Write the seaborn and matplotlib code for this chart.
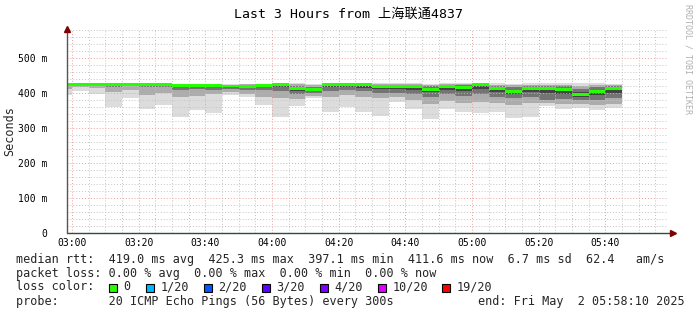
import matplotlib
matplotlib.use("Agg")
import matplotlib.pyplot as plt
import seaborn as sns
import numpy as np
import pandas as pd
from matplotlib.patches import Rectangle
from matplotlib.ticker import FixedLocator, FuncFormatter, MultipleLocator

sns.set_theme(style="white")
plt.rcParams['font.family'] = ['DejaVu Sans Mono', 'Noto Sans CJK SC']

# ---------------- data (ms) ----------------
bar_times = ["02:55", "03:00", "03:05", "03:10", "03:15", "03:20", "03:25", "03:30",
             "03:35", "03:40", "03:45", "03:50", "03:55", "04:00", "04:05", "04:10",
             "04:15", "04:20", "04:25", "04:30", "04:35", "04:40", "04:45", "04:50",
             "04:55", "05:00", "05:05", "05:10", "05:15", "05:20", "05:25", "05:30",
             "05:35", "05:40"]
median = [423, 424, 424, 424, 424, 424, 423, 422, 422, 421, 420, 419, 421, 423, 414, 411,
          424, 425.3, 423, 419, 419, 418, 411, 419, 416, 424, 414, 405, 412, 413, 410, 397,
          405, 411.6]
ping_min = [394, 406, 397, 360, 387, 354, 367, 332, 351, 344, 394, 390, 367, 332, 364, 387,
            347, 360, 347, 335, 375, 355, 326, 355, 347, 343, 347, 330, 332, 364, 354, 358,
            351, 356]
ping_lo2 = [412, 416, 413, 404, 409, 395, 401, 388, 392, 396, 403, 398, 390, 386, 384, 392,
            390, 393, 388, 385, 388, 380, 370, 378, 372, 375, 372, 365, 372, 371, 368, 368,
            366, 370]
ping_lo3 = [419, 421, 420, 418, 419, 416, 417, 410, 412, 410, 412, 408, 408, 405, 396, 400,
            406, 408, 405, 400, 401, 397, 390, 396, 392, 396, 390, 385, 390, 380, 382, 380,
            380, 385]
ping_lo4 = [422, 423, 423, 422, 422, 422, 421, 419, 419, 417, 417, 416, 416, 417, 407, 406,
            416, 418, 415, 412, 412, 410, 404, 410, 407, 412, 404, 397, 402, 400, 398, 390,
            394, 400]
ping_hi4 = [424, 424.5, 424.5, 424.5, 424.5, 424.5, 423.5, 423, 423, 422, 421, 421, 422, 424,
            417, 414, 425, 426, 424, 421, 421, 420, 415, 421, 419, 425, 417, 410, 415, 416,
            414, 404, 410, 415]
ping_hi3 = [425, 425, 425, 425, 425, 425, 424, 424, 424, 423, 423, 423, 424, 425, 421, 418,
            426, 427, 425, 423, 423, 422, 419, 423, 422, 426, 420, 416, 419, 420, 419, 412,
            416, 419]
ping_hi2 = [426, 426, 426, 426, 426, 426, 425, 425, 425, 424, 424, 425, 425, 426, 425, 422,
            427, 428, 426, 425, 425, 425, 423, 425, 425, 427, 424, 422, 424, 424, 424, 420,
            422, 424]
ping_max = [427, 427, 427, 428, 427, 427, 427, 427, 427, 426, 426, 427, 427, 428, 428, 426,
            429, 430, 428, 428, 428, 428, 427, 428, 428, 429, 428, 427, 428, 428, 428, 428,
            428, 427]

tick_labels = ["03:00", "03:20", "03:40", "04:00", "04:20", "04:40", "05:00", "05:20", "05:40"]
ytick_labels = ["0", "100 m", "200 m", "300 m", "400 m", "500 m"]

loss_labels = ["0", "1/20", "2/20", "3/20", "4/20", "10/20", "19/20"]
loss_colors = ["#26ff00", "#00b8ff", "#0059ff", "#5e00ff", "#7e00ff", "#dd00ff", "#ff0000"]

stats_line = "median rtt:  419.0 ms avg  425.3 ms max  397.1 ms min  411.6 ms now  6.7 ms sd  62.4   am/s"
loss_line = "packet loss: 0.00 % avg  0.00 % max  0.00 % min  0.00 % now"
probe_line = "probe:       20 ICMP Echo Pings (56 Bytes) every 300s"
end_line = "end: Fri May  2 05:58:10 2025"
title = "Last 3 Hours from 上海联通4837"


def to_min(s):
    h, m = s.split(":")
    return (int(h) - 3) * 60 + int(m)


df = pd.DataFrame({
    "t": [to_min(s) for s in bar_times],
    "median": median, "min": ping_min, "lo2": ping_lo2, "lo3": ping_lo3, "lo4": ping_lo4,
    "hi4": ping_hi4, "hi3": ping_hi3, "hi2": ping_hi2, "max": ping_max,
})
for c in ["median", "min", "lo2", "lo3", "lo4", "hi4", "hi3", "hi2", "max"]:
    df[c] = df[c] / 1000.0

W, H = 697, 315
fig = plt.figure(figsize=(W / 100, H / 100), dpi=100)
fig.patch.set_facecolor("white")
ax = fig.add_axes([67 / W, 1 - 233 / H, 600 / W, 203 / H])
ax.set_facecolor("white")

XMIN, XMAX = -1.5, 178.5
YMAX = 0.58
ax.set_xlim(XMIN, XMAX)
ax.set_ylim(0, YMAX)

# smoke layers (outer -> inner)
layers = [("min", "max", "#dcdcdc"), ("lo2", "hi2", "#acacac"),
          ("lo3", "hi3", "#747474"), ("lo4", "hi4", "#444444")]
for lo, hi, col in layers:
    ax.bar(df["t"], df[hi] - df[lo], bottom=df[lo], width=5, align="edge",
           color=col, linewidth=0, zorder=1)

# median band
sw = 0.0085
ax.bar(df["t"], [sw] * len(df), bottom=df["median"] - sw / 2, width=5, align="edge",
       color=loss_colors[0], linewidth=0, zorder=3)

# grid
ax.xaxis.set_major_locator(FixedLocator([to_min(s) for s in tick_labels]))
ax.xaxis.set_minor_locator(MultipleLocator(5))
ax.yaxis.set_major_locator(MultipleLocator(0.1))
ax.yaxis.set_minor_locator(MultipleLocator(0.02))
ax.set_xticklabels(tick_labels)
ax.yaxis.set_major_formatter(FuncFormatter(lambda v, p: ytick_labels[int(round(v * 10))]
                                           if 0 <= int(round(v * 10)) < len(ytick_labels) else ""))
ax.set_axisbelow(False)
ax.grid(which="minor", color="#c4c4c4", linestyle=(0, (1, 2)), linewidth=0.7)
ax.grid(which="major", color="#eba0a0", linestyle=(0, (1, 2)), linewidth=0.7)
for gl in ax.get_xgridlines() + ax.get_ygridlines():
    gl.set_zorder(2)

ax.tick_params(axis="x", which="major", length=0, pad=3.5, labelsize=7, colors="black")
ax.tick_params(axis="y", which="major", length=0, pad=14, labelsize=7, colors="black")
ax.tick_params(which="minor", length=0)
for s in ax.spines.values():
    s.set_visible(False)

# axes with arrows
axis_col = "#2C4D43"
arrow_col = "#7F0000"
ax.plot([XMIN, XMAX + 1.8], [0, 0], color=axis_col, lw=1, clip_on=False, zorder=4)
ax.plot([XMIN, XMIN], [0, YMAX], color="#555555", lw=1, clip_on=False, zorder=4)
ax.plot([XMAX + 1.8], [0], marker=">", color=arrow_col, markersize=4, clip_on=False, zorder=5)
ax.plot([XMIN], [YMAX + 0.004], marker="^", color=arrow_col, markersize=4, clip_on=False, zorder=5)

ax.set_xlabel("")
ax.set_ylabel("")


def fx(x):
    return x / W


def fy(y):
    return 1 - y / H


fig.text(fx(348), fy(14), title, ha="center", va="center", fontsize=9.5, color="black")
fig.text(fx(10), fy(131), "Seconds", rotation=90, ha="center", va="center", fontsize=8.5)
fig.text(fx(688), fy(59), "RRDTOOL / TOBI OETIKER", rotation=270, ha="center", va="center",
         fontsize=6, color="#b0b0b0")

fs = 8.5
fig.text(fx(16), fy(259), stats_line, ha="left", va="center", fontsize=fs)
fig.text(fx(16), fy(273), loss_line, ha="left", va="center", fontsize=fs)
fig.text(fx(16), fy(287), "loss color:", ha="left", va="center", fontsize=fs)
fig.text(fx(16), fy(301), probe_line, ha="left", va="center", fontsize=fs)
fig.text(fx(478), fy(301), end_line, ha="left", va="center", fontsize=fs)

box_x = [109, 146, 204, 262, 320, 378, 442]
for bx, lab, col in zip(box_x, loss_labels, loss_colors):
    fig.add_artist(Rectangle((fx(bx), fy(291.5)), 7.5 / W, 7.5 / H, transform=fig.transFigure,
                             facecolor=col, edgecolor="black", linewidth=0.8))
    fig.text(fx(bx + 14.5), fy(287), lab, ha="left", va="center", fontsize=fs)

fig.savefig("out.png", dpi=100, facecolor="white")
